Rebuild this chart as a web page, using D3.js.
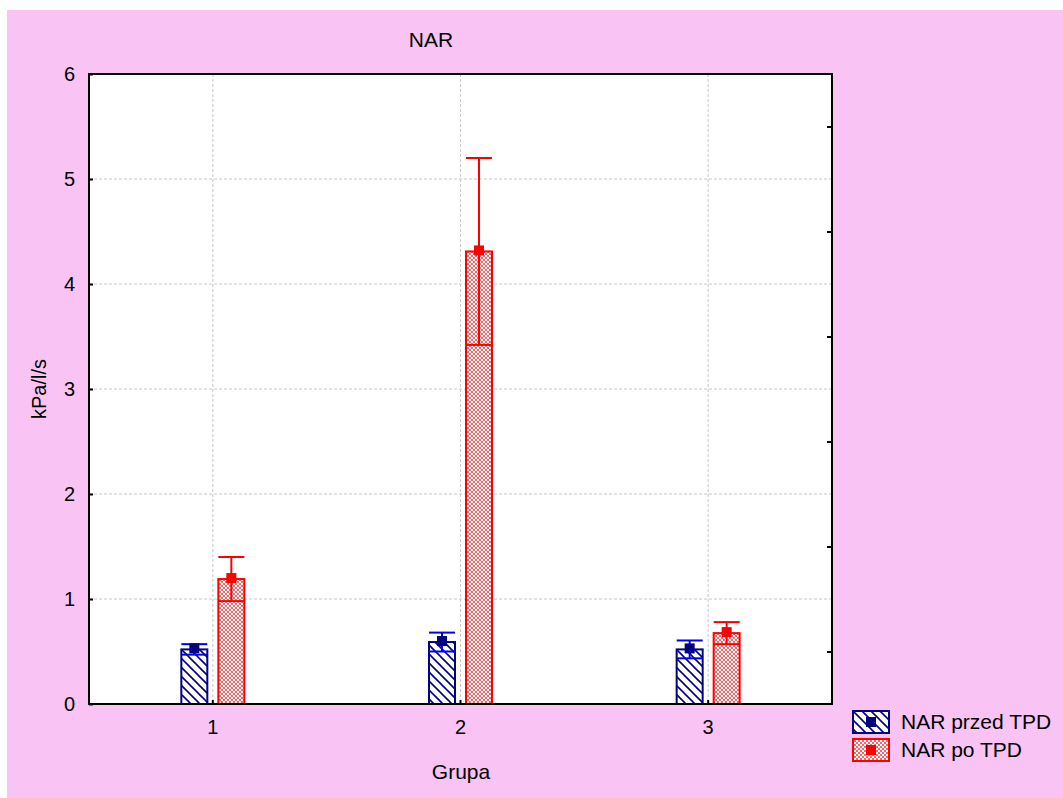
<!DOCTYPE html>
<html>
<head>
<meta charset="utf-8">
<script src="https://cdn.jsdelivr.net/npm/d3@7"></script>
<style>
  body { margin: 0; background: #fff; }
  svg text { font-family: "Liberation Sans", Arial, sans-serif; fill: #000; }
</style>
</head>
<body>
<div class="container"></div>
<script>
// chart data
const groups = ["1", "2", "3"];
const seriesNames = ["NAR przed TPD", "NAR po TPD"];
const meansBefore = [0.52, 0.59, 0.52];
const errBefore = [0.05, 0.09, 0.085];
const meansAfter = [1.19, 4.31, 0.675];
const errAfter = [0.21, 0.89, 0.105];
const yTicks = [0, 1, 2, 3, 4, 5, 6];
const yMinorTicks = [0.5, 1.5, 2.5, 3.5, 4.5, 5.5];

const width = 1063;
const height = 798;
const margin = { top: 74, bottom: 94, left: 89, right: 231 };

const svg = d3.select(".container")
  .append("svg")
  .attr("width", width)
  .attr("height", height);

// patterns for the bars
const defs = svg.append("defs");
const pBlue = defs.append("pattern")
  .attr("id", "hatchBlue")
  .attr("patternUnits", "userSpaceOnUse")
  .attr("width", 9).attr("height", 9);
pBlue.append("rect").attr("width", 9).attr("height", 9).attr("fill", "#fff");
pBlue.append("path")
  .attr("d", "M0,0 L9,9 M-4.5,4.5 L4.5,13.5 M4.5,-4.5 L13.5,4.5")
  .attr("stroke", "#000080").attr("stroke-width", 1.6);

const pRed = defs.append("pattern")
  .attr("id", "hatchRed")
  .attr("patternUnits", "userSpaceOnUse")
  .attr("width", 4).attr("height", 4);
pRed.append("rect").attr("width", 4).attr("height", 4).attr("fill", "#fff");
pRed.append("path")
  .attr("d", "M0,4 L4,0 M-1,1 L1,-1 M3,5 L5,3 M0,0 L4,4 M3,-1 L5,1 M-1,3 L1,5")
  .attr("stroke", "#ff5050").attr("stroke-width", 0.9);

// pink background
svg.append("rect")
  .attr("x", 7).attr("y", 10)
  .attr("width", width - 7).attr("height", height - 10)
  .attr("fill", "#f9c4f4");

const x0 = margin.left, x1 = width - margin.right;
const y0 = height - margin.bottom, y1 = margin.top;

svg.append("rect")
  .attr("x", x0).attr("y", y1)
  .attr("width", x1 - x0).attr("height", y0 - y1)
  .attr("fill", "#fff");

const xScale = d3.scaleBand()
  .domain(groups)
  .range([x0, x1]);

const yScale = d3.scaleLinear()
  .domain([0, 6])
  .range([y0, y1]);

// grid lines
svg.append("g")
  .selectAll("line")
  .data(yTicks.slice(1, -1))
  .join("line")
  .attr("x1", x0).attr("x2", x1)
  .attr("y1", d => yScale(d)).attr("y2", d => yScale(d))
  .attr("stroke", "#c8c8c8").attr("stroke-dasharray", "3,2");

svg.append("g")
  .selectAll("line")
  .data(groups)
  .join("line")
  .attr("x1", d => xScale(d) + xScale.bandwidth() / 2)
  .attr("x2", d => xScale(d) + xScale.bandwidth() / 2)
  .attr("y1", y1).attr("y2", y0)
  .attr("stroke", "#c8c8c8").attr("stroke-dasharray", "3,2");

// bars with error bars
const barW = 26;
const offsets = [-18.5, 18.5];
const series = [
  { name: seriesNames[0], means: meansBefore, errs: errBefore, fill: "url(#hatchBlue)", edge: "#000080", err: "#0000ff", mark: "#000080" },
  { name: seriesNames[1], means: meansAfter, errs: errAfter, fill: "url(#hatchRed)", edge: "#ff0000", err: "#ff0000", mark: "#ff0000" }
];

series.forEach((s, si) => {
  const cx = g => xScale(g) + xScale.bandwidth() / 2 + offsets[si];
  const g = svg.append("g");
  const rows = groups.map((gr, i) => ({ g: gr, m: s.means[i], e: s.errs[i] }));

  g.selectAll("rect.bar")
    .data(rows)
    .join("rect")
    .attr("class", "bar")
    .attr("x", d => cx(d.g) - barW / 2)
    .attr("y", d => yScale(d.m))
    .attr("width", barW)
    .attr("height", d => yScale(0) - yScale(d.m))
    .attr("fill", s.fill)
    .attr("stroke", s.edge)
    .attr("stroke-width", 2);

  // vertical whisker
  g.selectAll("line.v")
    .data(rows)
    .join("line")
    .attr("class", "v")
    .attr("x1", d => cx(d.g)).attr("x2", d => cx(d.g))
    .attr("y1", d => yScale(d.m + d.e)).attr("y2", d => yScale(d.m - d.e))
    .attr("stroke", s.err).attr("stroke-width", 2);

  // caps
  ["+", "-"].forEach(sign => {
    g.selectAll("line.cap" + (sign === "+" ? "t" : "b"))
      .data(rows)
      .join("line")
      .attr("class", "cap" + (sign === "+" ? "t" : "b"))
      .attr("x1", d => cx(d.g) - barW / 2).attr("x2", d => cx(d.g) + barW / 2)
      .attr("y1", d => yScale(sign === "+" ? d.m + d.e : d.m - d.e))
      .attr("y2", d => yScale(sign === "+" ? d.m + d.e : d.m - d.e))
      .attr("stroke", s.err).attr("stroke-width", 2);
  });

  // mean marker
  g.selectAll("rect.mk")
    .data(rows)
    .join("rect")
    .attr("class", "mk")
    .attr("x", d => cx(d.g) - 5)
    .attr("y", d => yScale(d.m) - 6)
    .attr("width", 10).attr("height", 10)
    .attr("fill", s.mark);
});

// frame
svg.append("rect")
  .attr("x", x0).attr("y", y1)
  .attr("width", x1 - x0).attr("height", y0 - y1)
  .attr("fill", "none").attr("stroke", "#000").attr("stroke-width", 2);

// y axis labels and ticks
svg.append("g")
  .attr("transform", `translate(${x0}, 0)`)
  .call(d3.axisLeft(yScale).tickValues(yTicks).tickFormat(d3.format("d")).tickSize(-4).tickPadding(14))
  .call(g => g.select(".domain").remove())
  .call(g => g.selectAll("line").attr("stroke-width", 2))
  .call(g => g.selectAll("text").attr("font-size", 20).style("font-family", "Liberation Sans, Arial, sans-serif"));

// right minor ticks
svg.append("g")
  .attr("transform", `translate(${x1}, 0)`)
  .call(d3.axisRight(yScale).tickValues(yMinorTicks).tickSize(-5).tickFormat(""))
  .call(g => g.select(".domain").remove())
  .call(g => g.selectAll("line").attr("stroke-width", 2));

// x axis
svg.append("g")
  .attr("transform", `translate(0, ${y0})`)
  .call(d3.axisBottom(xScale).tickSize(-4).tickPadding(16))
  .call(g => g.select(".domain").remove())
  .call(g => g.selectAll("line").attr("stroke-width", 2))
  .call(g => g.selectAll("text").attr("font-size", 20).style("font-family", "Liberation Sans, Arial, sans-serif"));

// titles
svg.append("text")
  .attr("x", 431).attr("y", 47)
  .attr("text-anchor", "middle").attr("font-size", 21)
  .text("NAR");

svg.append("text")
  .attr("transform", `translate(46, ${(y0 + y1) / 2}) rotate(-90)`)
  .attr("text-anchor", "middle").attr("font-size", 20)
  .text("kPa/l/s");

svg.append("text")
  .attr("x", 461).attr("y", 779)
  .attr("text-anchor", "middle").attr("font-size", 21)
  .text("Grupa");

// legend
const legend = svg.append("g").attr("transform", "translate(853, 711)");
series.forEach((s, i) => {
  const row = legend.append("g").attr("transform", `translate(0, ${i * 28})`);
  row.append("rect")
    .attr("width", 36).attr("height", 22)
    .attr("fill", s.fill).attr("stroke", s.edge).attr("stroke-width", 2);
  row.append("rect")
    .attr("x", 13).attr("y", 6).attr("width", 10).attr("height", 10)
    .attr("fill", s.mark);
  row.append("text")
    .attr("x", 48).attr("y", 18)
    .attr("font-size", 21)
    .text(s.name);
});
</script>
</body>
</html>
